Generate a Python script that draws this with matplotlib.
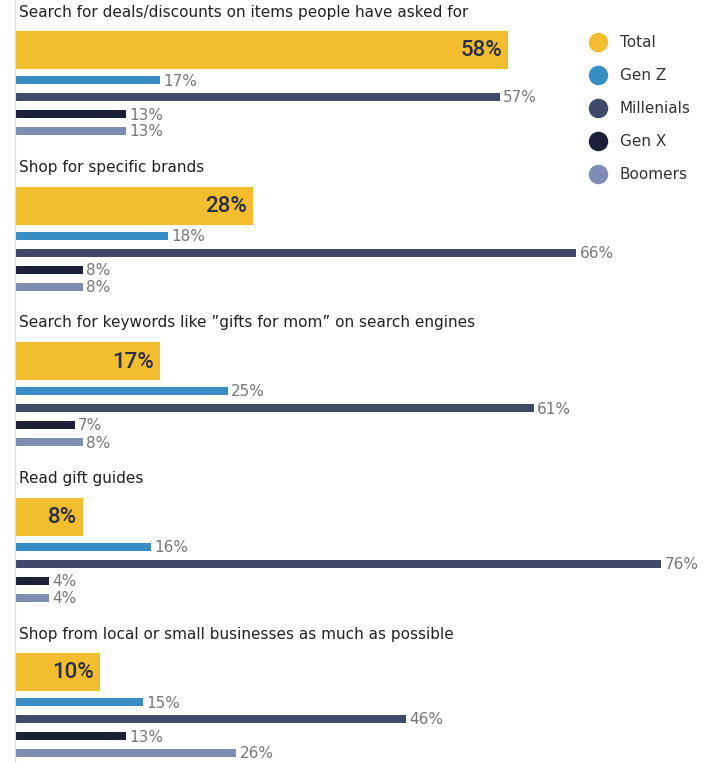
import matplotlib.pyplot as plt
from matplotlib.lines import Line2D

# chart data
questions = [
    "Search for deals/discounts on items people have asked for",
    "Shop for specific brands",
    "Search for keywords like \u201dgifts for mom\u201d on search engines",
    "Read gift guides",
    "Shop from local or small businesses as much as possible",
]
series = ["Total", "Gen Z", "Millenials", "Gen X", "Boomers"]
total = [58, 28, 17, 8, 10]
gen_z = [17, 18, 25, 16, 15]
millenials = [57, 66, 61, 76, 46]
gen_x = [13, 8, 7, 4, 13]
boomers = [13, 8, 8, 4, 26]

colors = ["#F2BD2F", "#378DC4", "#3F4A6B", "#1B2038", "#7F8CB3"]

W, H = 714, 763
fig = plt.figure(figsize=(W / 100, H / 100), dpi=100)
left_px = 15
px_per_pct = 8.5
ax = fig.add_axes([left_px / W, 0, 1 - left_px / W, 1])
ax.set_xlim(0, (W - left_px) / px_per_pct)
ax.set_ylim(H, 0)  # y in pixel-like units, top down

group_gap = 155.5
small = [gen_z, millenials, gen_x, boomers]
for i, q in enumerate(questions):
    base = 31 + i * group_gap
    ax.text(0.5, base - 19, q, fontsize=11, color="#222222", va="center", ha="left")
    ax.barh(base + 19, total[i], height=38, color=colors[0], left=0)
    ax.text(total[i] - 0.7, base + 20, f"{total[i]}%", ha="right", va="center",
            fontsize=16, fontweight="medium", color="#2B2F45",
            family=["Liberation Sans Narrow", "Roboto", "DejaVu Sans"])
    for j, vals in enumerate(small):
        y = base + 49 + j * 17
        ax.barh(y, vals[i], height=8, color=colors[j + 1])
        ax.text(vals[i] + 0.4, y + 1, f"{vals[i]}%", ha="left", va="center",
                fontsize=11, color="#777777")

ax.axvline(0, color="#DDDDDD", lw=1.5)
ax.axis("off")

handles = [Line2D([], [], marker="o", ls="", markersize=13, color=c) for c in colors]
leg = ax.legend(handles, series, loc="upper left", bbox_to_anchor=(0.793, 0.972),
                frameon=False, fontsize=11, labelspacing=1.18, handletextpad=0.4,
                labelcolor="#333333")

fig.savefig("out.png", dpi=100)
